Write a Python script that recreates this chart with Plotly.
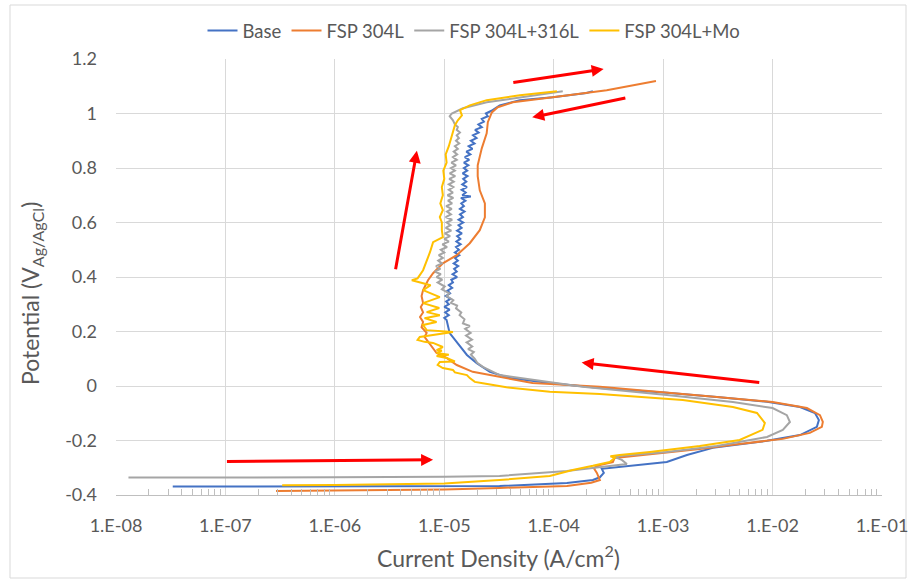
import math
import plotly.graph_objects as go

# ---------------- data (current density A/cm2, potential V) ----------------
base_curve = [
    (3.3e-8, -0.369), (1e-7, -0.369), (1e-6, -0.368), (1e-5, -0.367), (3.2e-5, -0.367),
    (1.32e-4, -0.356), (2.28e-4, -0.345), (2.64e-4, -0.335), (2.87e-4, -0.319), (2.75e-4, -0.304),
    (5.28e-4, -0.293), (1.08e-3, -0.279), (1.65e-3, -0.253), (2.84e-3, -0.227), (8.9e-3, -0.201),
    (1.78e-2, -0.180), (2.54e-2, -0.150), (2.65e-2, -0.125), (2.44e-2, -0.099), (1.78e-2, -0.077),
    (8.9e-3, -0.058), (3.1e-3, -0.040), (1.08e-3, -0.025), (2.64e-4, -0.007), (9.2e-5, 0.011),
    (3.97e-5, 0.029), (2.61e-5, 0.052), (1.98e-5, 0.084), (1.61e-5, 0.114), (1.33e-5, 0.158),
    (1.12e-5, 0.194), (1.05e-5, 0.242),
    (1.0e-5, 0.25), (1.1e-5, 0.26), (1.02e-5, 0.27), (1.12e-5, 0.28), (1.0e-5, 0.29), (1.1e-5, 0.30),
    (1.04e-5, 0.31), (1.14e-5, 0.32), (1.03e-5, 0.33), (1.13e-5, 0.34), (1.07e-5, 0.35), (1.18e-5, 0.36),
    (1.1e-5, 0.37), (1.2e-5, 0.38), (1.16e-5, 0.39), (1.31e-5, 0.40), (1.19e-5, 0.41), (1.3e-5, 0.42),
    (1.23e-5, 0.43), (1.34e-5, 0.44), (1.22e-5, 0.45), (1.33e-5, 0.46), (1.25e-5, 0.47), (1.37e-5, 0.48),
    (1.25e-5, 0.49), (1.36e-5, 0.50), (1.28e-5, 0.51), (1.41e-5, 0.52), (1.29e-5, 0.53), (1.4e-5, 0.54),
    (1.31e-5, 0.55), (1.45e-5, 0.56), (1.31e-5, 0.57), (1.44e-5, 0.58), (1.35e-5, 0.59), (1.49e-5, 0.60),
    (1.35e-5, 0.61), (1.48e-5, 0.62), (1.39e-5, 0.63), (1.53e-5, 0.64), (1.39e-5, 0.65), (1.51e-5, 0.66),
    (1.43e-5, 0.67), (1.56e-5, 0.68), (1.42e-5, 0.69), (1.75e-5, 0.695), (1.46e-5, 0.70), (1.57e-5, 0.71),
    (1.44e-5, 0.72), (1.61e-5, 0.73), (1.46e-5, 0.74), (1.59e-5, 0.75), (1.49e-5, 0.76), (1.63e-5, 0.77),
    (1.47e-5, 0.78), (1.62e-5, 0.79), (1.51e-5, 0.80), (1.66e-5, 0.81), (1.51e-5, 0.82), (1.69e-5, 0.83),
    (1.54e-5, 0.84), (1.73e-5, 0.85), (1.59e-5, 0.86), (1.81e-5, 0.87), (1.67e-5, 0.88), (1.89e-5, 0.89),
    (1.75e-5, 0.90), (1.97e-5, 0.91), (1.83e-5, 0.92), (2.06e-5, 0.93), (1.91e-5, 0.94), (2.2e-5, 0.95),
    (2.05e-5, 0.96), (2.3e-5, 0.97), (2.2e-5, 0.98), (2.5e-5, 0.99), (2.4e-5, 1.00), (2.7e-5, 1.01),
    (3.21e-5, 1.03), (4.9e-5, 1.049), (9.8e-5, 1.06), (2.0e-4, 1.075), (2.28e-4, 1.082),
]

fsp304_curve = [
    (2.9e-7, -0.385), (1e-6, -0.384), (1e-5, -0.380), (3.2e-5, -0.374), (1.32e-4, -0.367),
    (2.2e-4, -0.355), (2.64e-4, -0.345), (2.48e-4, -0.319), (2.32e-4, -0.301), (2.64e-4, -0.290),
    (3.47e-4, -0.279), (3.61e-4, -0.264), (5.28e-4, -0.257), (1.08e-3, -0.246), (2.16e-3, -0.231),
    (4.34e-3, -0.216), (1.24e-2, -0.194), (2.19e-2, -0.172), (2.82e-2, -0.150), (2.88e-2, -0.132),
    (2.71e-2, -0.107), (2.06e-2, -0.081), (1.0e-2, -0.059), (3.1e-3, -0.040), (2.64e-4, -0.003),
    (6.4e-5, 0.011), (3.21e-5, 0.033), (1.82e-5, 0.052), (1.3e-5, 0.077), (1.05e-5, 0.103),
    (8.5e-6, 0.121), (7.4e-6, 0.151), (6.6e-6, 0.180), (6.9e-6, 0.195), (6.2e-6, 0.216),
    (6.4e-6, 0.235), (6.0e-6, 0.253), (6.4e-6, 0.27), (6.1e-6, 0.29), (6.4e-6, 0.304),
    (6.2e-6, 0.33), (6.4e-6, 0.352), (7.1e-6, 0.388), (7.9e-6, 0.414), (9.7e-6, 0.45),
    (1.3e-5, 0.48), (1.71e-5, 0.524), (2.11e-5, 0.572), (2.35e-5, 0.619), (2.35e-5, 0.67),
    (2.11e-5, 0.718), (2.02e-5, 0.77), (2.02e-5, 0.81), (2.2e-5, 0.872), (2.44e-5, 0.927),
    (2.5e-5, 0.968), (2.72e-5, 1.004), (3.08e-5, 1.023), (4.23e-5, 1.041), (9.8e-5, 1.06),
    (2.0e-4, 1.075), (3.05e-4, 1.085), (8.6e-4, 1.119),
]

fsp304_316_curve = [
    (1.3e-8, -0.336), (1e-7, -0.336), (1e-6, -0.335), (1e-5, -0.333), (3.2e-5, -0.330),
    (1.32e-4, -0.312), (2.64e-4, -0.297), (4.66e-4, -0.286), (4.19e-4, -0.271), (3.61e-4, -0.261),
    (4.0e-4, -0.257), (1.08e-3, -0.242), (3.1e-3, -0.220), (8.9e-3, -0.187), (1.24e-2, -0.161),
    (1.44e-2, -0.132), (1.35e-2, -0.107), (1.0e-2, -0.081), (4.34e-3, -0.059), (1.08e-3, -0.033),
    (1.84e-4, -0.003), (6.4e-5, 0.022), (3.21e-5, 0.04), (2.25e-5, 0.07), (2.0e-5, 0.085),
    (1.9e-5, 0.10), (1.75e-5, 0.115), (1.86e-5, 0.125), (1.65e-5, 0.135), (1.8e-5, 0.145),
    (1.6e-5, 0.16), (1.79e-5, 0.17), (1.58e-5, 0.185), (1.74e-5, 0.195), (1.55e-5, 0.21),
    (1.71e-5, 0.22), (1.48e-5, 0.23), (1.53e-5, 0.245), (1.38e-5, 0.26), (1.43e-5, 0.27),
    (1.28e-5, 0.285), (1.31e-5, 0.295), (1.15e-5, 0.305), (1.21e-5, 0.315), (1.05e-5, 0.33),
    (1.11e-5, 0.34), (9.5e-6, 0.355), (1.01e-5, 0.365), (8.7e-6, 0.38), (9.6e-6, 0.39),
    (8.5e-6, 0.40), (9.3e-6, 0.41), (8.2e-6, 0.42), (9.2e-6, 0.43), (8.4e-6, 0.44),
    (9.5e-6, 0.45), (8.8e-6, 0.46), (9.7e-6, 0.47), (8.9e-6, 0.48), (1.0e-5, 0.49),
    (9.3e-6, 0.50), (1.06e-5, 0.51), (9.6e-6, 0.52), (1.1e-5, 0.53), (1.0e-5, 0.54),
    (1.13e-5, 0.55), (1.01e-5, 0.56), (1.16e-5, 0.57), (1.03e-5, 0.58), (1.14e-5, 0.59),
    (1.05e-5, 0.60), (1.18e-5, 0.61), (1.03e-5, 0.62), (1.15e-5, 0.63), (1.06e-5, 0.64),
    (1.17e-5, 0.65), (1.04e-5, 0.66), (1.18e-5, 0.67), (1.08e-5, 0.68), (1.21e-5, 0.69),
    (1.07e-5, 0.70), (1.2e-5, 0.71), (1.1e-5, 0.72), (1.21e-5, 0.73), (1.1e-5, 0.74),
    (1.22e-5, 0.75), (1.11e-5, 0.76), (1.26e-5, 0.77), (1.12e-5, 0.78), (1.25e-5, 0.79),
    (1.15e-5, 0.80), (1.28e-5, 0.81), (1.16e-5, 0.82), (1.3e-5, 0.83), (1.2e-5, 0.84),
    (1.31e-5, 0.85), (1.22e-5, 0.86), (1.33e-5, 0.87), (1.25e-5, 0.88), (1.37e-5, 0.89),
    (1.28e-5, 0.90), (1.36e-5, 0.91), (1.3e-5, 0.92), (1.39e-5, 0.93), (1.3e-5, 0.94),
    (1.33e-5, 0.95), (1.25e-5, 0.96), (1.2e-5, 0.975), (1.12e-5, 0.99), (1.17e-5, 1.0),
    (1.48e-5, 1.019), (2.44e-5, 1.041), (4.9e-5, 1.06), (9.8e-5, 1.078), (1.21e-4, 1.082),
]

fsp304_mo_curve = [
    (3.3e-7, -0.364), (1e-6, -0.363), (1e-5, -0.358), (3.2e-5, -0.345), (9.2e-5, -0.330),
    (1.49e-4, -0.308), (2.28e-4, -0.293), (3.25e-4, -0.279), (3.61e-4, -0.264), (3.3e-4, -0.258),
    (4.0e-4, -0.253), (7.55e-4, -0.242), (2.16e-3, -0.220), (5.0e-3, -0.198), (8.1e-3, -0.161),
    (8.5e-3, -0.136), (7.2e-3, -0.099), (4.34e-3, -0.077), (1.51e-3, -0.051), (2.64e-4, -0.029),
    (9.2e-5, -0.021), (3.7e-5, -0.005), (2.25e-5, 0.010), (1.9e-5, 0.015), (1.71e-5, 0.029),
    (1.61e-5, 0.040), (1.25e-5, 0.05), (1.2e-5, 0.059), (9.7e-6, 0.066), (8.7e-6, 0.077),
    (9.1e-6, 0.088), (1.25e-5, 0.09), (1.05e-5, 0.103), (8.5e-6, 0.11), (1.1e-5, 0.115),
    (8.5e-6, 0.121), (9.5e-6, 0.13), (8.5e-6, 0.132), (9.7e-6, 0.143), (7.9e-6, 0.158),
    (6.6e-6, 0.162), (5.7e-6, 0.169), (5.97e-6, 0.18), (1.2e-5, 0.198), (6.9e-6, 0.205),
    (6.4e-6, 0.224), (8.5e-6, 0.235), (6.6e-6, 0.249), (9.1e-6, 0.26), (6.9e-6, 0.271),
    (9.0e-6, 0.286), (6.4e-6, 0.304), (9.1e-6, 0.326), (6.4e-6, 0.352), (7.5e-6, 0.37),
    (5.05e-6, 0.388), (5.7e-6, 0.395), (6.4e-6, 0.425), (7.4e-6, 0.491), (7.9e-6, 0.528),
    (9.7e-6, 0.546), (9.5e-6, 0.572), (9.5e-6, 0.60), (9.1e-6, 0.62), (9.7e-6, 0.645),
    (9.2e-6, 0.67), (9.7e-6, 0.70), (9.5e-6, 0.73), (1.0e-5, 0.76), (9.8e-6, 0.79),
    (1.05e-5, 0.82), (1.03e-5, 0.85), (1.1e-5, 0.88), (1.15e-5, 0.91), (1.2e-5, 0.94),
    (1.25e-5, 0.957), (1.33e-5, 0.975), (1.45e-5, 0.993), (1.39e-5, 1.012), (1.71e-5, 1.03),
    (2.44e-5, 1.049), (4.9e-5, 1.067), (1.07e-4, 1.082),
]

series_names = ["Base", "FSP 304L", "FSP 304L+316L", "FSP 304L+Mo"]
series_colors = ["#4472C4", "#ED7D31", "#A5A5A5", "#FFC000"]
series_data = [base_curve, fsp304_curve, fsp304_316_curve, fsp304_mo_curve]

x_tick_vals = [1e-8, 1e-7, 1e-6, 1e-5, 1e-4, 1e-3, 1e-2, 1e-1]
x_tick_text = ["1.E-08", "1.E-07", "1.E-06", "1.E-05", "1.E-04", "1.E-03", "1.E-02", "1.E-01"]
y_tick_vals = [-0.4, -0.2, 0, 0.2, 0.4, 0.6, 0.8, 1, 1.2]
y_tick_text = ["-0.4", "-0.2", "0", "0.2", "0.4", "0.6", "0.8", "1", "1.2"]

# scan-direction arrows: (start current, start potential, end current, end potential)
arrows = [
    (1.0e-7, -0.277, 7.9e-6, -0.271),
    (3.57e-6, 0.423, 5.62e-6, 0.863),
    (4.14e-5, 1.113, 2.86e-4, 1.163),
    (4.66e-4, 1.058, 6.36e-5, 0.986),
    (7.8e-3, 0.012, 1.8e-4, 0.086),
]

FONT = "Lato"
GREY_TXT = "#595959"

L, R, T, B = 116, 30, 59, 88
W, H = 912, 583
PW, PH = W - L - R, H - T - B

def px_to_paper_x(px):
    return (px - L) / PW

def py_to_paper_y(py):
    return (H - B - py) / PH

fig = go.Figure()
for name, color, pts in zip(series_names, series_colors, series_data):
    fig.add_trace(go.Scatter(
        x=[p[0] for p in pts], y=[p[1] for p in pts], name=name, mode="lines",
        line=dict(color=color, width=2),
    ))

minor_vals = [m * 10.0 ** d for d in range(-8, -1) for m in range(2, 10)]

annotations = []
for (x0, y0, x1, y1) in arrows:
    annotations.append(dict(
        x=math.log10(x1), y=y1, ax=math.log10(x0), ay=y0,
        xref="x", yref="y", axref="x", ayref="y",
        showarrow=True, arrowhead=2, arrowsize=0.8, arrowwidth=3,
        arrowcolor="#FF0000", text="",
    ))
annotations.append(dict(
    text="Current Density (A/cm<sup>2</sup>)", xref="paper", yref="paper",
    x=px_to_paper_x(498), y=py_to_paper_y(556), xanchor="center", yanchor="middle",
    showarrow=False, font=dict(size=23, color=GREY_TXT, family=FONT)))
annotations.append(dict(
    text="Potential (V<sub>Ag/AgCl</sub>)", xref="paper", yref="paper",
    x=px_to_paper_x(31), y=py_to_paper_y(294), xanchor="center", yanchor="middle",
    textangle=-90, showarrow=False, font=dict(size=23, color=GREY_TXT, family=FONT)))

fig.update_layout(
    width=W, height=H,
    margin=dict(l=L, r=R, t=T, b=B),
    paper_bgcolor="white", plot_bgcolor="white",
    font=dict(family=FONT, color=GREY_TXT, size=16),
    showlegend=True,
    legend=dict(orientation="h", x=px_to_paper_x(474), xanchor="center",
                y=py_to_paper_y(31), yanchor="middle",
                font=dict(size=18.5, color=GREY_TXT, family=FONT), itemwidth=30,
                bgcolor="rgba(0,0,0,0)"),
    annotations=annotations,
    shapes=[dict(type="rect", xref="paper", yref="paper",
                 x0=px_to_paper_x(10), x1=px_to_paper_x(906),
                 y0=py_to_paper_y(578), y1=py_to_paper_y(5),
                 line=dict(color="#D9D9D9", width=1), fillcolor="rgba(0,0,0,0)", layer="below")],
)

fig.update_xaxes(
    type="log", range=[-8, -1], automargin=False,
    tickvals=x_tick_vals, ticktext=x_tick_text,
    showgrid=True, gridcolor="#D9D9D9", gridwidth=1,
    showline=True, linecolor="#BFBFBF", linewidth=1,
    ticks="", ticklabelstandoff=14,
    tickfont=dict(size=18, color=GREY_TXT, family=FONT),
    minor=dict(tickvals=minor_vals, ticks="inside", ticklen=6, tickcolor="#BFBFBF", showgrid=False),
    zeroline=False,
)
fig.update_yaxes(
    range=[-0.4, 1.2], automargin=False, tickvals=y_tick_vals, ticktext=y_tick_text,
    showgrid=True, gridcolor="#D9D9D9", gridwidth=1,
    showline=False, ticks="", zeroline=False, ticklabelstandoff=18,
    tickfont=dict(size=18, color=GREY_TXT, family=FONT),
)

fig.write_html("out.html", config={"displayModeBar": False},
               post_script="document.body.style.margin='0';document.body.style.overflow='hidden';")
